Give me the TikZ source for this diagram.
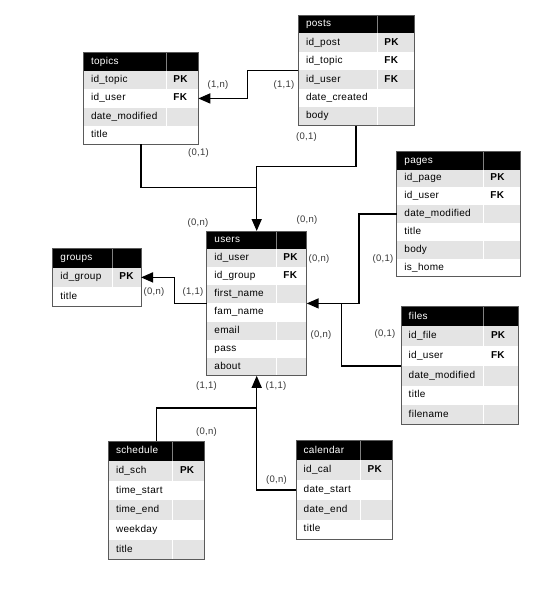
\documentclass[tikz,border=0pt]{standalone}
\usepackage{fontspec}
\setmainfont{Liberation Sans}[LetterSpace=3]
\usetikzlibrary{positioning}
\usetikzlibrary{arrows.meta}
\definecolor{rowgray}{HTML}{E4E4E4}
\definecolor{edgegray}{HTML}{5A5A5A}
\definecolor{labgray}{HTML}{383838}

\tikzset{
  erhead/.style={fill=black, draw=none, inner sep=0pt, outer sep=0pt},
  errow/.style={draw=none, inner sep=0pt, outer sep=0pt},
  row1/.style={fill=rowgray},
  row0/.style={fill=white},
  erfield/.style={anchor=west, inner sep=0pt, text height=7.2pt, text depth=2.2pt, font=\fontsize{10}{12}\selectfont},
  erkey/.style={erfield, font=\fontsize{10}{12}\selectfont\bfseries},
  ertitle/.style={erfield, text=white},
  erlink/.style={line width=1.5pt},
  erarrow/.style={erlink, -{Triangle[length=12pt,width=10pt]}},
  card/.style={font=\fontsize{9.5}{11}\selectfont, text=labgray, inner sep=0pt}
}

% #1 name, #2 top left, #3 width, #4 key column, #5 row height, #6 title, #7 fields
\newcommand{\ertable}[7]{
  \node[erhead, minimum width=#3pt, minimum height=#5pt, anchor=north west] (#1-0) at (#2) {};
  \node[ertitle] (#1-t) at ([xshift=7.5pt]#1-0.west) {#6};
  \draw[gray] ([xshift=#4pt]#1-0.north west) -- ([xshift=#4pt]#1-0.south west);
  \foreach \f/\k [count=\i] in {#7} {
    \pgfmathtruncatemacro{\j}{\i-1}
    \pgfmathtruncatemacro{\p}{mod(\i,2)}
    \node[errow, row\p, minimum width=#3pt, minimum height=#5pt, below=0pt of #1-\j] (#1-\i) {};
    \draw[white] ([xshift=#4pt]#1-\i.north west) -- ([xshift=#4pt]#1-\i.south west);
    \node[erfield] (#1-\i-f) at ([xshift=7.5pt]#1-\i.west) {\f};
    \node[erkey] (#1-\i-k) at ([xshift=#4pt+7.5pt]#1-\i.west) {\k};
    \xdef\erlast{\i}
  }
  \draw[edgegray, line width=1pt] (#1-0.north west) rectangle (#1-\erlast.south east);
}

\begin{document}
\begin{tikzpicture}[x=1pt, y=-1pt]
\useasboundingbox[fill=white] (0,0) rectangle (554,600);

% tables
\ertable{topics}{83.3,52.7}{115}{82.4}{18.3}{topics}
  {id\_topic/PK, id\_user/FK, date\_modified/{}, title/{}}
\ertable{posts}{298.3,15}{115.7}{78.4}{18.45}{posts}
  {id\_post/PK, id\_topic/FK, id\_user/FK, date\_created/{}, body/{}}
\ertable{users}{206.7,231}{100}{69}{18.1}{users}
  {id\_user/PK, id\_group/FK, first\_name/{}, fam\_name/{}, email/{}, pass/{}, about/{}}
\ertable{groups}{52.7,248}{88.3}{59}{19.6}{groups}
  {id\_group/PK, title/{}}
\ertable{pages}{396.7,151.7}{123.3}{86}{17.85}{pages}
  {id\_page/PK, id\_user/FK, date\_modified/{}, title/{}, body/{}, is\_home/{}}
\ertable{files}{401,306.7}{117.3}{82.3}{19.7}{files}
  {id\_file/PK, id\_user/FK, date\_modified/{}, title/{}, filename/{}}
\ertable{schedule}{108.3,441}{96}{64}{19.8}{schedule}
  {id\_sch/PK, time\_start/{}, time\_end/{}, weekday/{}, title/{}}
\ertable{calendar}{296,440.7}{96}{64}{19.7}{calendar}
  {id\_cal/PK, date\_start/{}, date\_end/{}, title/{}}

% bends
\coordinate (jpost) at ([yshift=64.3pt]users-0.north);
\coordinate (jtopic) at ([yshift=43.3pt]users-0.north);
\coordinate (jtp) at ([xshift=-50.6pt]posts-2.south west);
\coordinate (jgroup) at ([xshift=-32.4pt]users-3.south west);
\coordinate (jpage) at ([xshift=52.3pt]users-3.south east);
\coordinate (jfile) at ([xshift=35pt]users-3.south east);
\coordinate (jsch) at ([yshift=-32.4pt]users-7.south);

% links
\draw[erarrow] (posts-2.south west) -- (jtp) |- (topics-2.east);
\draw[erlink] (topics-4.south) |- (jtopic);
\draw[erarrow] (posts-5.south) |- (jpost) -- (users-0.north);
\draw[erarrow] (users-3.south west) -- (jgroup) |- (groups-1.east);
\draw[erarrow] (pages-3.west) -| (jpage) -- (users-3.south east);
\draw[erlink] (files-2.south west) -| (jfile);
\draw[erarrow] (schedule-0.north) |- (jsch) -- (users-7.south);
\draw[erlink] (calendar-2.west) -| (jsch);

% cardinalities
\node[card] (c1) at (218,85) {(1,n)};
\node[card] (c2) at (284,85) {(1,1)};
\node[card] (c3) at (198.5,153) {(0,1)};
\node[card] (c4) at (306.5,137) {(0,1)};
\node[card] (c5) at (198,223) {(0,n)};
\node[card] (c6) at (307,220) {(0,n)};
\node[card] (c7) at (154,292) {(0,n)};
\node[card] (c8) at (193,292) {(1,1)};
\node[card] (c9) at (319,259) {(0,n)};
\node[card] (c10) at (383,259) {(0,1)};
\node[card] (c11) at (321,335) {(0,n)};
\node[card] (c12) at (385,334) {(0,1)};
\node[card] (c13) at (206.5,386) {(1,1)};
\node[card] (c14) at (276,386) {(1,1)};
\node[card] (c15) at (206.5,432) {(0,n)};
\node[card] (c16) at (276.5,480) {(0,n)};
\end{tikzpicture}
\end{document}
